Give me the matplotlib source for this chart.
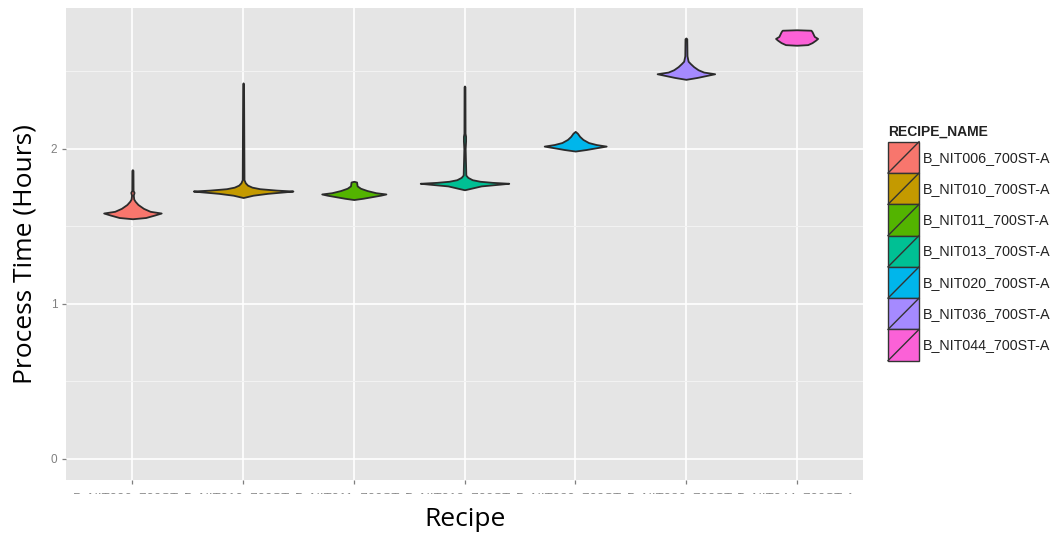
import numpy as np
import matplotlib
matplotlib.use("Agg")
import matplotlib.pyplot as plt
from matplotlib.patches import Rectangle
from matplotlib.lines import Line2D
from matplotlib.legend_handler import HandlerBase

recipes = ["B_NIT006_700ST-A", "B_NIT010_700ST-A", "B_NIT011_700ST-A",
           "B_NIT013_700ST-A", "B_NIT020_700ST-A", "B_NIT036_700ST-A",
           "B_NIT044_700ST-A"]
colors = ["#F8766D", "#C49A00", "#53B400", "#00C094", "#00B6EB", "#A58AFF", "#FB61D7"]

# violin outlines: process time (hours) and half width
nit006_y = [1.548, 1.556, 1.572, 1.585, 1.596, 1.615, 1.64, 1.66, 1.675, 1.70, 1.718, 1.73, 1.86, 1.865]
nit006_w = [0.0, 0.12, 0.20, 0.26, 0.16, 0.10, 0.05, 0.025, 0.012, 0.008, 0.015, 0.006, 0.005, 0.0]
nit010_y = [1.685, 1.69, 1.70, 1.712, 1.722, 1.727, 1.733, 1.742, 1.752, 1.765, 1.78, 1.80, 2.42, 2.425]
nit010_w = [0.0, 0.03, 0.09, 0.22, 0.38, 0.45, 0.30, 0.15, 0.08, 0.04, 0.02, 0.008, 0.004, 0.0]
nit011_y = [1.672, 1.68, 1.69, 1.70, 1.708, 1.716, 1.73, 1.745, 1.76, 1.785, 1.79]
nit011_w = [0.0, 0.08, 0.16, 0.24, 0.29, 0.20, 0.12, 0.06, 0.03, 0.025, 0.0]
nit013_y = [1.735, 1.745, 1.76, 1.77, 1.777, 1.783, 1.79, 1.80, 1.815, 1.83, 2.0, 2.05, 2.08, 2.10, 2.40, 2.405]
nit013_w = [0.0, 0.06, 0.15, 0.30, 0.40, 0.25, 0.14, 0.07, 0.03, 0.012, 0.006, 0.01, 0.01, 0.005, 0.004, 0.0]
nit020_y = [1.985, 1.995, 2.005, 2.017, 2.027, 2.04, 2.06, 2.08, 2.10, 2.112]
nit020_w = [0.0, 0.10, 0.18, 0.28, 0.19, 0.12, 0.07, 0.04, 0.02, 0.0]
nit036_y = [2.448, 2.46, 2.475, 2.484, 2.495, 2.51, 2.53, 2.55, 2.565, 2.60, 2.71, 2.715]
nit036_w = [0.0, 0.10, 0.20, 0.26, 0.16, 0.11, 0.07, 0.04, 0.02, 0.01, 0.008, 0.0]
nit044_y = [2.668, 2.672, 2.685, 2.70, 2.712, 2.725, 2.74, 2.755, 2.765, 2.768]
nit044_w = [0.0, 0.10, 0.14, 0.17, 0.19, 0.16, 0.15, 0.14, 0.13, 0.0]

profile_y = [nit006_y, nit010_y, nit011_y, nit013_y, nit020_y, nit036_y, nit044_y]
profile_w = [nit006_w, nit010_w, nit011_w, nit013_w, nit020_w, nit036_w, nit044_w]

y_ticks = [0, 1, 2]


class ViolinKey(HandlerBase):
    def create_artists(self, legend, orig_handle, xdescent, ydescent,
                       width, height, fontsize, trans):
        x0, y0 = -xdescent, -ydescent
        box = Rectangle((x0, y0), width, height, facecolor=orig_handle.get_facecolor(),
                        edgecolor="#333333", lw=1.0, transform=trans)
        diag = Line2D([x0, x0 + width], [y0, y0 + height], color="#333333",
                      lw=1.0, transform=trans)
        return [box, diag]


fig = plt.figure(figsize=(10.55, 5.37), dpi=100, facecolor="white")
ax = fig.add_axes([66 / 1055, 57 / 537, 797 / 1055, 472 / 537])
ax.set_facecolor("#E5E5E5")

for i, (ys, ws, c) in enumerate(zip(profile_y, profile_w, colors)):
    pos = i + 1
    ys = np.array(ys)
    ws = np.array(ws)
    ax.fill_betweenx(ys, pos - ws, pos + ws, facecolor=c, edgecolor="#2b2b2b",
                     lw=1.3, zorder=3)

ax.set_xlim(0.4, 7.6)
ax.set_ylim(-0.1385, 2.9085)
ax.set_xticks(range(1, len(recipes) + 1))
ax.set_xticklabels(recipes, fontsize=9.5, color="#8a8a8a", family="Liberation Sans")
ax.set_yticks(y_ticks)
ax.set_yticklabels([str(t) for t in y_ticks], fontsize=8.5, color="#808080",
                   family="Liberation Sans")
ax.set_yticks([0.5, 1.5, 2.5], minor=True)
ax.tick_params(axis="both", which="major", length=3.2, width=0.9, color="#7f7f7f", pad=3)
ax.tick_params(axis="x", which="major", pad=5.5)
ax.tick_params(axis="y", which="minor", length=0)
ax.grid(True, which="major", color="white", lw=1.2, zorder=1)
ax.grid(True, which="minor", axis="y", color="#F2F2F2", lw=0.8, zorder=1)
ax.set_axisbelow(True)
for s in ax.spines.values():
    s.set_visible(False)

# the tick labels are cut off in the original, only their top edge shows
fig.patches.append(Rectangle((0, 0), 1, (537 - 494) / 537, transform=fig.transFigure,
                             facecolor="white", edgecolor="none", zorder=5))

handles = [Rectangle((0, 0), 1, 1, facecolor=c) for c in colors]
fs = 10.3
leg = fig.legend(handles, recipes, handler_map={Rectangle: ViolinKey()},
                 loc="upper left", bbox_to_anchor=(888 / 1055, 1 - 125 / 537),
                 frameon=False, title="RECIPE_NAME",
                 title_fontproperties={"size": 10, "weight": "bold", "family": "Liberation Sans"},
                 prop={"family": "Liberation Sans", "size": fs},
                 handlelength=2.17, handleheight=2.986,
                 labelspacing=0.0, handletextpad=0.28, borderpad=0.0,
                 borderaxespad=0.0)
leg._legend_box.align = "left"
leg._legend_box.sep = 2
for t in leg.get_texts():
    t.set_color("#222222")
leg.get_title().set_color("#222222")

fig.text(25.5 / 1055, 1 - 254.5 / 537, "Process Time (Hours)", rotation=90,
         ha="center", va="center", fontsize=19, family="Open Sans", color="black", zorder=6)
fig.text(465 / 1055, 1 - 520 / 537, "Recipe", ha="center", va="center",
         fontsize=19, family="Open Sans", color="black", zorder=6)

fig.savefig("out.png", dpi=100, facecolor="white")
